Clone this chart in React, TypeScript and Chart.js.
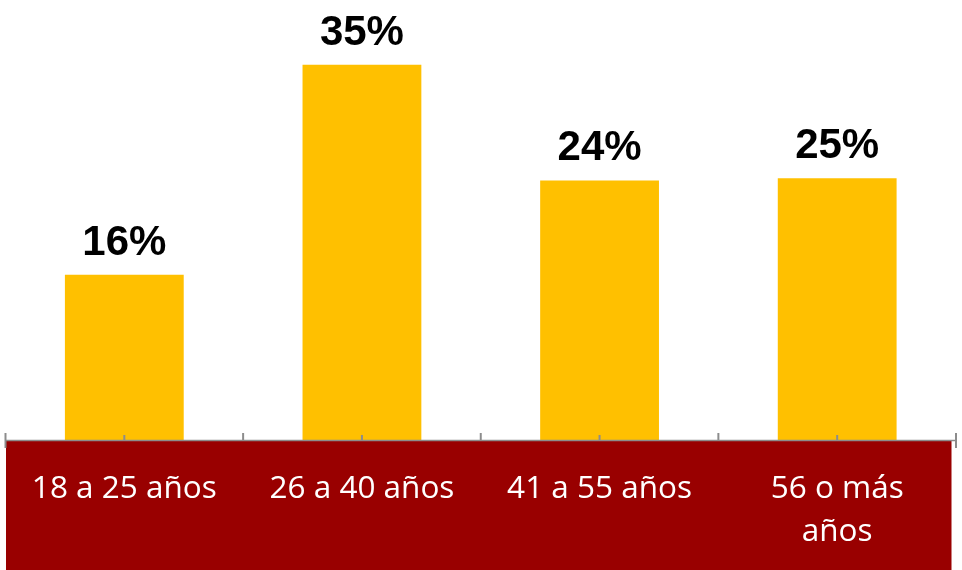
import React, { useEffect, useRef } from "react";
import { Chart, registerables } from "chart.js";

Chart.register(...registerables);

const categories: (string | string[])[] = ["18 a 25 años", "26 a 40 años", "41 a 55 años", ["56 o más", "años"]];
const shares = [15.4, 35, 24.2, 24.4];
const shareLabels = ["16%", "35%", "24%", "25%"];

const BAR_COLOR = "#FFC000";
const BOX_COLOR = "#990000";
const AXIS_COLOR = "#8C8C8C";

const decorPlugin = {
  id: "decor",
  beforeDraw(chart: any) {
    const { ctx, chartArea } = chart;
    ctx.save();
    ctx.fillStyle = BOX_COLOR;
    ctx.fillRect(chartArea.left + 0.5, chartArea.bottom + 1, chartArea.right - chartArea.left - 5, chart.height - chartArea.bottom - 1);
    ctx.restore();
  },
  afterDatasetsDraw(chart: any) {
    const { ctx, chartArea } = chart;
    const xs = chart.scales.x;
    const y0 = chartArea.bottom;
    ctx.save();
    ctx.strokeStyle = AXIS_COLOR;
    ctx.lineWidth = 1.5;
    ctx.beginPath();
    ctx.moveTo(chartArea.left, y0 + 0.5);
    ctx.lineTo(chartArea.right, y0 + 0.5);
    ctx.stroke();
    ctx.lineWidth = 2;
    const n = categories.length;
    const step = (chartArea.right - chartArea.left) / n;
    for (let i = 0; i <= n; i++) {
      const x = chartArea.left + i * step;
      const edge = i === 0 || i === n;
      ctx.beginPath();
      ctx.moveTo(x, y0 - 7);
      ctx.lineTo(x, edge ? y0 + 8 : y0 + 0.5);
      ctx.stroke();
    }
    for (let i = 0; i < n; i++) {
      const x = xs.getPixelForValue(i);
      ctx.beginPath();
      ctx.moveTo(x, y0 - 5);
      ctx.lineTo(x, y0 + 0.5);
      ctx.stroke();
    }
    // value labels
    const meta = chart.getDatasetMeta(0);
    ctx.fillStyle = "#000";
    ctx.font = "bold 42px 'Liberation Sans', Arial, sans-serif";
    ctx.textAlign = "center";
    ctx.textBaseline = "alphabetic";
    meta.data.forEach((bar: any, i: number) => {
      ctx.fillText(shareLabels[i], bar.x, bar.y - 20);
    });
    ctx.restore();
  },
};

export default function App() {
  const ref = useRef<HTMLCanvasElement | null>(null);
  useEffect(() => {
    if (!ref.current) return;
    const chart = new Chart(ref.current, {
      type: "bar",
      data: {
        labels: categories,
        datasets: [
          {
            data: shares,
            backgroundColor: BAR_COLOR,
            borderWidth: 0,
            barPercentage: 0.5,
            categoryPercentage: 1,
          },
        ],
      },
      options: {
        animation: false,
        responsive: false,
        maintainAspectRatio: false,
        layout: { padding: { top: 11, left: 5.5, right: 6, bottom: 0 } },
        plugins: { legend: { display: false }, tooltip: { enabled: false } },
        scales: {
          x: {
            grid: { display: false, drawTicks: false },
            border: { display: false },
            ticks: {
              color: "#FFFFFF",
              font: { family: "'Open Sans', sans-serif", size: 31.5, lineHeight: 1.38 },
              padding: 27,
              maxRotation: 0,
              autoSkip: false,
            },
            afterFit: (scale: any) => {
              scale.height = 130;
            },
          },
          y: {
            display: false,
            min: 0,
            max: 40,
          },
        },
      },
      plugins: [decorPlugin],
    });
    return () => chart.destroy();
  }, []);
  return (
    <div style={{ position: "fixed", left: 0, top: 0, width: 962, height: 570, background: "#fff" }}>
      <canvas ref={ref} width={962} height={570} style={{ width: 962, height: 570, display: "block" }} />
    </div>
  );
}
